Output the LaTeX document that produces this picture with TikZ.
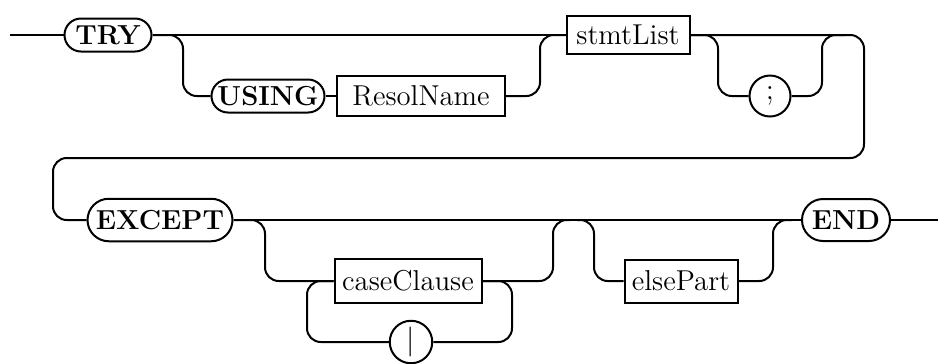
\documentclass[tikz,border=0pt]{standalone}
\usepackage{tikz}
\usetikzlibrary{shapes.misc}

\begin{document}
\begin{tikzpicture}[x=0.4pt,y=-0.4pt,line width=0.8pt,
  rounded corners=5.5pt,
  kw/.style={draw,rounded rectangle,sharp corners,inner sep=0pt,
             font=\fontsize{11}{13}\selectfont\bfseries},
  nt/.style={draw,rectangle,sharp corners,inner sep=0pt,
             font=\fontsize{11.5}{14}\selectfont},
  sym/.style={draw,circle,sharp corners,inner sep=0pt,minimum size=16.4pt,
              font=\fontsize{12}{14}\selectfont}]
  \useasboundingbox (0,0) rectangle (938,363);
  % first row
  \node[kw,minimum width=34.8pt,minimum height=13.2pt] (TRY) at (108,35) {TRY};
  \node[kw,minimum width=45.2pt,minimum height=13.2pt] (USING) at (268,96) {USING};
  \node[nt,minimum width=67.2pt,minimum height=16pt] (ResolName) at (421,96) {ResolName};
  \node[nt,minimum width=49.2pt,minimum height=15.2pt] (stmtList) at (628,35) {stmtList};
  \node[sym] (semi) at (770,96) {;};
  % second row
  \node[kw,minimum width=58pt,minimum height=17pt] (EXCEPT) at (160,220) {EXCEPT};
  \node[nt,minimum width=58.8pt,minimum height=17.6pt] (caseClause) at (408,281) {caseClause};
  \node[sym,minimum size=17pt] (bar) at (411,342) {$|$};
  \node[nt,minimum width=45.2pt,minimum height=17.2pt] (elsePart) at (681,281) {elsePart};
  \node[kw,minimum width=35.2pt,minimum height=16.8pt] (END) at (846,220) {END};
  % helper points
  \coordinate (in)  at (10,35);
  \coordinate (j0)  at (183,96);
  \coordinate (j1)  at (540,35);
  \coordinate (j2)  at (718,96);
  \coordinate (j3)  at (822,35);
  \coordinate (m1)  at (845,35);
  \coordinate (rc)  at (864,35);
  \coordinate (lc)  at (53,158);
  \coordinate (k0)  at (265,281);
  \coordinate (k1)  at (553,220);
  \coordinate (m2)  at (570,220);
  \coordinate (k2)  at (512,342);
  \coordinate (k3)  at (307,281);
  \coordinate (m3)  at (577,220);
  \coordinate (k4)  at (594,281);
  \coordinate (k5)  at (773,220);
  \coordinate (m4)  at (792,220);
  \coordinate (out) at (938,220);
  % first row lines
  \draw (in) -- (TRY.west);
  \draw (TRY.east) -- (stmtList.west);
  \draw (TRY.east) -| (j0) -- (USING.west);
  \draw (USING.east) -- (ResolName.west);
  \draw (ResolName.east) -| (j1) -- (stmtList.west);
  \draw (stmtList.east) -| (j2) -- (semi.west);
  \draw (semi.east) -| (j3) -- (m1);
  % wrap to second row
  \draw (stmtList.east) -- (rc) |- (lc) |- (EXCEPT.west);
  % second row lines
  \draw (EXCEPT.east) -- (END.west);
  \draw (EXCEPT.east) -| (k0) -- (caseClause.west);
  \draw (caseClause.east) -| (k1) -- (m2);
  \draw (caseClause.east) -| (k2) -- (bar.east);
  \draw (bar.west) -| (k3) -- (caseClause.west);
  \draw (m3) -| (k4) -- (elsePart.west);
  \draw (elsePart.east) -| (k5) -- (m4);
  \draw (END.east) -- (out);
\end{tikzpicture}
\end{document}
